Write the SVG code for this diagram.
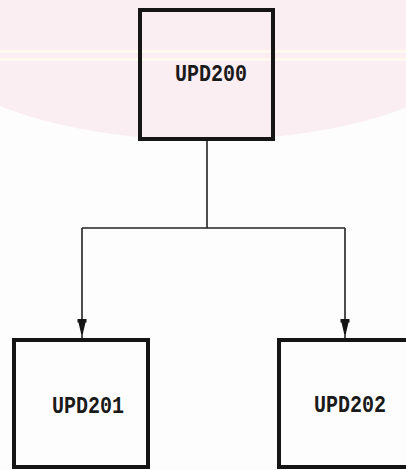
<svg xmlns="http://www.w3.org/2000/svg" width="406" height="470" viewBox="0 0 406 470">
  <defs>
    <style>
      .box { fill: none; stroke: #151515; stroke-width: 4; }
      .lbl { font-family: "Liberation Mono", "DejaVu Sans Mono", monospace; font-weight: bold; font-size: 20px; fill: #1a1a1a; text-anchor: middle; }
      .conn { fill: none; stroke: #222; stroke-width: 1.6; }
    </style>
    <marker id="arrow" markerUnits="userSpaceOnUse" markerWidth="24" markerHeight="14" viewBox="-20 -7 24 14" refX="0" refY="0" orient="auto">
      <path d="M-19,-4.5 L-15.5,-4.5 L-15.5,-3.5 L-4,-0.8 L-4,0.8 L-15.5,3.5 L-15.5,4.5 L-19,4.5 Z" fill="#151515"/>
    </marker>
  </defs>
  <rect x="0" y="0" width="406" height="470" fill="#fefdfd"/>
  <ellipse cx="205" cy="38" rx="275" ry="102" fill="#fbeef3"/>
  <rect x="0" y="50" width="406" height="3" fill="#fdf9ee"/>
  <rect x="0" y="58" width="406" height="3" fill="#fdf9ee"/>
  <g id="connectors">
    <path class="conn" d="M207,141 L207,228"/>
    <path class="conn" d="M82,228 L345,228"/>
    <path class="conn" d="M82,228 L82,338" marker-end="url(#arrow)"/>
    <path class="conn" d="M345,228 L345,338" marker-end="url(#arrow)"/>
  </g>
  <g id="UPD200">
    <rect class="box" x="140" y="10" width="133" height="129"/>
    <text class="lbl" x="211" y="81" transform="translate(0,-16.2) scale(1,1.2)">UPD200</text>
  </g>
  <g id="UPD201">
    <rect class="box" x="14" y="340" width="134" height="127"/>
    <text class="lbl" x="88" y="413" transform="translate(0,-82.6) scale(1,1.2)">UPD201</text>
  </g>
  <g id="UPD202">
    <rect class="box" x="279" y="340" width="150" height="127"/>
    <text class="lbl" x="350" y="412" transform="translate(0,-82.4) scale(1,1.2)">UPD202</text>
  </g>
</svg>
